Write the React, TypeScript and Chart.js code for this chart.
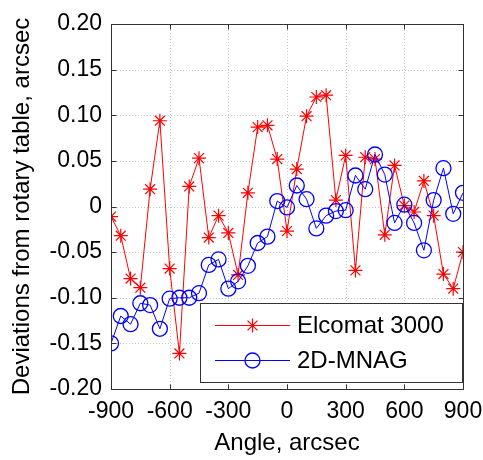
import React, { useEffect, useRef } from 'react';
import { Chart, registerables } from 'chart.js';
Chart.register(...registerables);

const angles = [
  -900, -850, -800, -750, -700, -650, -600, -550, -500, -450, -400, -350, -300,
  -250, -200, -150, -100, -50, 0, 50, 100, 150, 200, 250, 300, 350, 400, 450,
  500, 550, 600, 650, 700, 750, 800, 850, 900,
];
const elcomat = [
  -0.011, -0.032, -0.079, -0.089, 0.019, 0.094, -0.068, -0.161, 0.022, 0.053,
  -0.034, -0.010, -0.029, -0.075, 0.015, 0.087, 0.089, 0.052, -0.027, 0.041,
  0.099, 0.120, 0.122, 0.007, 0.056, -0.070, 0.054, 0.052, -0.031, 0.045,
  0.001, -0.006, 0.028, -0.010, -0.074, -0.090, -0.050,
];
const mnag = [
  -0.150, -0.120, -0.129, -0.106, -0.108, -0.134, -0.101, -0.100, -0.100, -0.095,
  -0.064, -0.058, -0.090, -0.082, -0.065, -0.040, -0.033, 0.006, -0.001, 0.023,
  0.008, -0.024, -0.010, -0.005, -0.004, 0.034, 0.019, 0.057, 0.035, -0.018,
  0.002, -0.018, -0.048, 0.007, 0.042, -0.008, 0.015,
];
const xTickValues = [-900, -600, -300, 0, 300, 600, 900];
const yTickValues = [-0.2, -0.15, -0.1, -0.05, 0, 0.05, 0.1, 0.15, 0.2];
const seriesNames = ['Elcomat 3000', '2D-MNAG'];
const xTitle = 'Angle, arcsec';
const yTitle = 'Deviations from rotary table, arcsec';

const FONT = "'Liberation Sans', Arial, sans-serif";
const RED = '#ff0000';
const BLUE = '#0000ff';

function drawStar(ctx: CanvasRenderingContext2D, x: number, y: number, r: number, color: string) {
  ctx.save();
  ctx.strokeStyle = color;
  ctx.lineWidth = 1.2;
  ctx.beginPath();
  for (let k = 0; k < 4; k++) {
    const a = (k * Math.PI) / 4;
    ctx.moveTo(x - r * Math.cos(a), y - r * Math.sin(a));
    ctx.lineTo(x + r * Math.cos(a), y + r * Math.sin(a));
  }
  ctx.stroke();
  ctx.restore();
}

function drawCircle(ctx: CanvasRenderingContext2D, x: number, y: number, r: number, color: string) {
  ctx.save();
  ctx.strokeStyle = color;
  ctx.lineWidth = 1.3;
  ctx.beginPath();
  ctx.arc(x, y, r, 0, Math.PI * 2);
  ctx.stroke();
  ctx.restore();
}

const framePlugin = {
  id: 'frame',
  beforeDatasetsDraw(chart: any) {
    const { ctx, chartArea: a, scales } = chart;
    ctx.save();
    ctx.strokeStyle = '#c8c8c8';
    ctx.lineWidth = 1;
    ctx.setLineDash([1, 2]);
    ctx.beginPath();
    xTickValues.forEach((v) => {
      const px = Math.round(scales.x.getPixelForValue(v)) + 0.5;
      ctx.moveTo(px, a.top);
      ctx.lineTo(px, a.bottom);
    });
    yTickValues.forEach((v) => {
      const py = Math.round(scales.y.getPixelForValue(v)) + 0.5;
      ctx.moveTo(a.left, py);
      ctx.lineTo(a.right, py);
    });
    ctx.stroke();
    ctx.restore();
  },
  afterDatasetsDraw(chart: any) {
    const { ctx, chartArea: a, scales } = chart;
    ctx.save();
    ctx.strokeStyle = '#333333';
    ctx.lineWidth = 1;
    ctx.setLineDash([]);
    const L = Math.round(a.left) + 0.5;
    const R = Math.round(a.right) + 0.5;
    const T = Math.round(a.top) + 0.5;
    const B = Math.round(a.bottom) + 0.5;
    ctx.strokeRect(L, T, R - L, B - T);
    ctx.beginPath();
    const tl = 5;
    xTickValues.forEach((v) => {
      const px = Math.round(scales.x.getPixelForValue(v)) + 0.5;
      ctx.moveTo(px, B);
      ctx.lineTo(px, B - tl);
      ctx.moveTo(px, T);
      ctx.lineTo(px, T + tl);
    });
    yTickValues.forEach((v) => {
      const py = Math.round(scales.y.getPixelForValue(v)) + 0.5;
      ctx.moveTo(L, py);
      ctx.lineTo(L + tl, py);
      ctx.moveTo(R, py);
      ctx.lineTo(R - tl, py);
    });
    ctx.stroke();
    ctx.restore();
  },
  afterDraw(chart: any) {
    const { ctx } = chart;
    const bx = 200.5, by = 303.5, bw = 262, bh = 79;
    ctx.save();
    ctx.fillStyle = '#ffffff';
    ctx.fillRect(bx, by, bw, bh);
    ctx.strokeStyle = '#333333';
    ctx.lineWidth = 1;
    ctx.strokeRect(bx, by, bw, bh);
    const rows = [
      { y: 325, color: RED, name: seriesNames[0], star: true },
      { y: 360, color: BLUE, name: seriesNames[1], star: false },
    ];
    rows.forEach((r) => {
      ctx.strokeStyle = r.color;
      ctx.lineWidth = 1;
      ctx.beginPath();
      ctx.moveTo(215, r.y + 0.5);
      ctx.lineTo(290, r.y + 0.5);
      ctx.stroke();
      if (r.star) drawStar(ctx, 252.5, r.y + 0.5, 7, r.color);
      else drawCircle(ctx, 252.5, r.y + 0.5, 7.5, r.color);
      ctx.fillStyle = '#000000';
      ctx.font = `24px ${FONT}`;
      ctx.textAlign = 'left';
      ctx.textBaseline = 'middle';
      ctx.fillText(r.name, 297, r.y + 1);
    });
    ctx.restore();
  },
};

export default function App() {
  const ref = useRef<HTMLCanvasElement>(null);
  useEffect(() => {
    if (!ref.current) return;
    const chart = new Chart(ref.current, {
      type: 'line',
      data: {
        datasets: [
          {
            label: seriesNames[0],
            data: angles.map((x, i) => ({ x, y: elcomat[i] })),
            borderColor: RED,
            backgroundColor: 'rgba(0,0,0,0)',
            borderWidth: 1,
            pointStyle: 'star',
            pointRadius: 7,
            pointBorderWidth: 1.2,
            pointBorderColor: RED,
            tension: 0,
            order: 1,
          },
          {
            label: seriesNames[1],
            data: angles.map((x, i) => ({ x, y: mnag[i] })),
            borderColor: BLUE,
            backgroundColor: 'rgba(0,0,0,0)',
            borderWidth: 1,
            pointStyle: 'circle',
            pointRadius: 7.5,
            pointBorderWidth: 1.3,
            pointBorderColor: BLUE,
            pointBackgroundColor: 'rgba(0,0,0,0)',
            tension: 0,
            order: 0,
          },
        ],
      },
      options: {
        responsive: false,
        animation: false,
        devicePixelRatio: 1,
        layout: { padding: { left: 0, right: 20, top: 24, bottom: 0 } },
        plugins: { legend: { display: false }, tooltip: { enabled: false } },
        scales: {
          x: {
            type: 'linear',
            min: -900,
            max: 900,
            afterBuildTicks: (s: any) => {
              s.ticks = xTickValues.map((v) => ({ value: v }));
            },
            afterFit: (s: any) => {
              s.height = 71;
              s.paddingLeft = 0;
              s.paddingRight = 0;
            },
            grid: { display: false, drawTicks: false },
            border: { display: false },
            ticks: {
              padding: 9,
              color: '#000',
              font: { family: FONT, size: 23 },
              maxRotation: 0,
              autoSkip: false,
              callback: (v: any) => String(v),
            },
            title: {
              display: true,
              text: xTitle,
              color: '#000',
              font: { family: FONT, size: 24 },
              padding: { top: 0, bottom: 2 },
            },
          },
          y: {
            type: 'linear',
            min: -0.2,
            max: 0.2,
            afterBuildTicks: (s: any) => {
              s.ticks = yTickValues.map((v) => ({ value: v }));
            },
            afterFit: (s: any) => {
              s.width = 111;
              s.paddingTop = 0;
              s.paddingBottom = 0;
            },
            grid: { display: false, drawTicks: false },
            border: { display: false },
            ticks: {
              padding: 9,
              color: '#000',
              font: { family: FONT, size: 23 },
              autoSkip: false,
              callback: (v: any) => (Math.abs(v) < 1e-9 ? '0' : Number(v).toFixed(2)),
            },
            title: {
              display: true,
              text: yTitle,
              color: '#000',
              font: { family: FONT, size: 24 },
              padding: { top: 8, bottom: 0 },
            },
          },
        },
      },
      plugins: [framePlugin],
    } as any);
    return () => chart.destroy();
  }, []);
  return (
    <div style={{ position: 'fixed', left: 0, top: 0, width: 483, height: 460, background: '#fff' }}>
      <canvas ref={ref} width={483} height={460} style={{ display: 'block' }} />
    </div>
  );
}
